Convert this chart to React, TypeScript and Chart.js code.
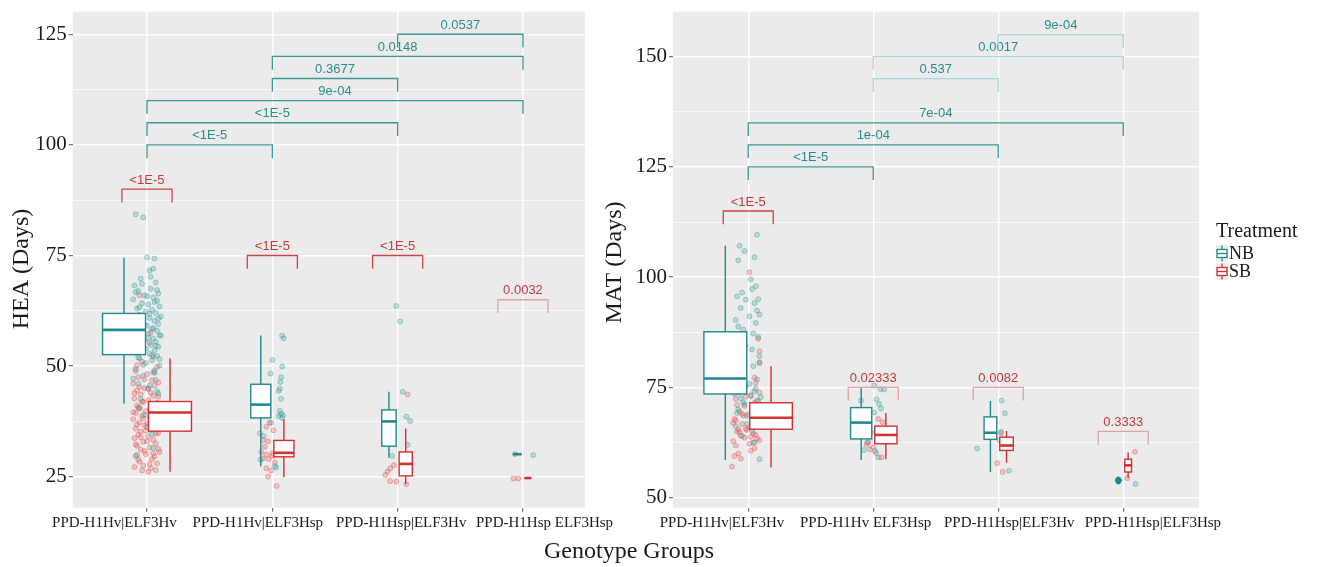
import React, { useEffect, useRef } from "react";
import { Chart, registerables } from "chart.js";

Chart.register(...registerables);

// ---------------- DATA ----------------
const LEFT_LABELS = ["PPD-H1Hv|ELF3Hv", "PPD-H1Hv|ELF3Hsp", "PPD-H1Hsp|ELF3Hv", "PPD-H1Hsp ELF3Hsp"];
const RIGHT_LABELS = ["PPD-H1Hv|ELF3Hv", "PPD-H1Hv ELF3Hsp", "PPD-H1Hsp|ELF3Hv", "PPD-H1Hsp|ELF3Hsp"];
const TREATMENTS = ["NB", "SB"];
const X_TITLE = "Genotype Groups";
const LEFT_Y_TITLE = "HEA (Days)";
const RIGHT_Y_TITLE = "MAT (Days)";
const LEGEND_TITLE = "Treatment";

const HEA_Y_MAJOR = [25, 50, 75, 100, 125];
const HEA_Y_MINOR = [37.5, 62.5, 87.5, 112.5];
const MAT_Y_MAJOR = [50, 75, 100, 125, 150];
const MAT_Y_MINOR = [62.5, 87.5, 112.5, 137.5];

// box stats: [lower whisker, Q1, median, Q3, upper whisker]
const HEA_NB_STATS = [
  [41.5, 52.6, 58.2, 61.9, 74.5],
  [27.3, 38.3, 41.3, 45.9, 56.9],
  [29.3, 31.9, 37.5, 40.1, 44.2],
  [30.1, 30.1, 30.1, 30.1, 30.1],
];
const HEA_SB_STATS = [
  [26.1, 35.3, 39.5, 42.0, 51.8],
  [24.9, 29.5, 30.4, 33.2, 38.0],
  [23.3, 25.2, 27.9, 30.6, 35.9],
  [24.7, 24.7, 24.7, 24.7, 24.7],
];
const MAT_NB_STATS = [
  [58.5, 73.5, 77.0, 87.6, 107.1],
  [58.5, 63.3, 67.0, 70.4, 74.9],
  [55.8, 63.2, 64.7, 68.3, 71.9],
  [53.9, 53.9, 53.9, 53.9, 53.9],
];
const MAT_SB_STATS = [
  [56.8, 65.5, 68.1, 71.5, 79.8],
  [58.7, 62.2, 64.2, 66.2, 69.2],
  [57.9, 60.7, 61.8, 63.7, 65.1],
  [54.5, 55.8, 57.3, 58.7, 60.2],
];

// group sizes (box widths ~ sqrt(n), varwidth)
const HEA_NB_N = [160, 35, 18, 6];
const HEA_SB_N = [160, 35, 15, 4];
const MAT_NB_N = [160, 39, 14, 4];
const MAT_SB_N = [158, 43, 16, 4];

// jittered observations: [jitter offset from group, value]
const HEA_NB_PTS: [number, number][][] = [
  [[-0.09,84.3],[-0.03,83.6],[0.0,74.6],[0.06,74.3],[0.05,72.0],[0.02,71.6],[-0.05,69.8],[0.07,68.9],[-0.10,68.2],[0.03,67.5],[-0.07,67.0],[0.09,66.4],[-0.02,66.0],[0.05,65.5],[-0.11,65.1],[0.08,64.8],[-0.04,64.2],[0.01,63.9],[0.10,63.5],[-0.08,63.0],[0.04,62.7],[-0.01,62.3],[0.07,62.0],[-0.06,61.6],[0.11,61.2],[0.02,60.9],[-0.09,60.5],[0.06,60.2],[-0.03,59.8],[0.09,59.5],[0.00,59.1],[-0.07,58.8],[0.04,58.4],[0.08,58.0],[-0.05,57.7],[0.01,57.3],[0.10,57.0],[-0.10,56.6],[0.05,56.2],[-0.02,55.9],[0.07,55.5],[-0.08,55.1],[0.03,54.8],[0.09,54.4],[-0.04,54.0],[0.06,53.6],[-0.11,53.2],[0.02,52.8],[0.08,52.3],[-0.06,51.8],[0.04,51.3],[-0.01,50.7],[0.10,50.1],[-0.09,49.4],[0.05,48.6],[-0.03,47.8],[0.07,46.9],[-0.07,46.0],[0.01,45.0],[0.09,43.8],[-0.05,42.5],[0.03,41.2],[-0.02,39.0],[0.06,37.5],[0.04,34.6],[-0.08,29.9],
   [0.03,70.2],[-0.04,68.6],[0.08,67.2],[-0.09,66.7],[0.00,65.8],[0.06,64.5],[-0.06,63.3],[0.02,61.9],[-0.10,61.0],[0.09,60.7],[-0.02,59.3],[0.05,58.6],[-0.08,57.5],[0.11,56.9],[0.01,56.4],[-0.05,55.3],[0.07,54.6],[-0.01,53.9],[0.04,52.5],[-0.07,52.0],[0.10,51.6],[-0.03,50.3],[0.06,49.0],[-0.11,47.2],[0.02,45.6],[0.08,44.3],[-0.06,40.6],[0.0,36.2],[0.05,31.5]],
  [[0.078,56.9],[0.09,56.3],[0.0,51.4],[0.078,49.9],[-0.014,48.3],[0.07,47.5],[0.064,46.4],[0.06,44.9],[0.07,42.6],[0.05,44.4],[0.06,39.9],[0.07,39.2],[0.085,38.9],[0.078,38.3],[0.05,38.7],[-0.01,37.2],[-0.07,34.2],[-0.093,28.9],[0.02,27.4],[0.03,27.1]],
  [[-0.01,63.6],[0.02,60.1],[0.04,44.2],[0.07,38.6],[0.10,37.6],[0.08,32.2],[-0.045,29.7]],
  [[-0.064,30.1],[0.082,29.9]],
];
const HEA_SB_PTS: [number, number][][] = [
  [[-0.06,66.0],[0.02,55.3],[-0.10,53.0],[0.05,52.1],[-0.04,51.0],[0.08,49.8],[-0.09,48.9],[0.00,48.2],[-0.07,47.5],[0.04,46.8],[-0.11,46.1],[0.06,45.6],[-0.02,45.0],[-0.08,44.5],[0.03,44.0],[-0.05,43.6],[0.09,43.1],[-0.10,42.7],[0.01,42.3],[-0.03,41.9],[0.07,41.5],[-0.08,41.1],[0.04,40.8],[-0.06,40.4],[0.10,40.1],[-0.01,39.8],[-0.09,39.4],[0.05,39.1],[-0.04,38.7],[0.02,38.4],[-0.11,38.0],[0.08,37.7],[-0.06,37.3],[0.00,37.0],[-0.02,36.6],[0.06,36.3],[-0.09,35.9],[0.03,35.6],[-0.05,35.2],[0.09,34.9],[-0.07,34.5],[0.01,34.1],[-0.10,33.7],[0.05,33.3],[-0.03,32.9],[0.07,32.5],[-0.08,32.0],[0.02,31.6],[-0.05,31.1],[0.10,30.6],[-0.01,30.1],[0.06,29.6],[-0.09,29.7],[0.04,29.0],[-0.06,28.4],[0.08,28.0],[-0.03,27.5],[0.03,26.9],[-0.04,26.4],[0.01,26.1],[0.07,26.5],
   [0.03,57.5],[-0.08,50.2],[0.06,48.5],[-0.02,47.0],[0.09,46.3],[-0.06,45.3],[0.01,44.8],[-0.10,43.9],[0.05,43.3],[-0.04,42.0],[0.08,41.7],[-0.07,40.6],[0.02,40.3],[-0.11,39.6],[0.06,38.9],[-0.03,38.2],[0.10,37.9],[-0.08,36.8],[0.04,36.0],[-0.01,35.4],[0.07,34.7],[-0.05,33.9],[0.00,33.0],[-0.09,32.3],[0.09,31.3],[-0.02,30.8],[0.05,30.3],[-0.07,28.9],[0.02,27.9],[-0.10,27.2]],
  [[-0.048,36.3],[-0.022,37.2],[-0.075,33.3],[-0.035,33.0],[-0.088,30.6],[-0.048,30.0],[0.0,30.3],[-0.075,29.1],[-0.03,29.0],[-0.048,26.9],[-0.01,26.4],[-0.035,25.0],[0.035,22.9],[0.01,35.5],[-0.1,34.8],[0.0,29.7],[-0.06,31.8],[0.02,28.2]],
  [[0.08,43.6],[-0.03,27.6],[-0.06,26.9],[-0.10,25.4],[-0.06,24.0],[-0.01,23.9],[0.07,23.3],[-0.08,26.2]],
  [[-0.077,24.6],[-0.038,24.6]],
];
const MAT_NB_PTS: [number, number][][] = [
  [[0.07,109.6],[-0.07,107.1],[-0.03,105.9],[0.05,104.5],[-0.08,103.8],[0.06,97.9],[0.03,97.3],[-0.09,95.6],[0.08,95.0],[-0.02,94.9],[0.05,94.1],[-0.06,93.0],[0.09,91.5],[0.01,91.1],[-0.10,90.3],[0.06,89.6],[-0.04,88.1],[0.08,86.4],[-0.07,85.1],[0.03,83.6],[0.09,82.1],[-0.05,81.3],[0.04,79.8],[-0.09,78.3],[0.07,76.8],[-0.02,75.3],[0.05,74.1],[-0.11,73.5],[0.02,73.0],[-0.06,72.5],[0.08,71.9],[-0.03,71.2],[0.10,70.7],[-0.08,70.0],[0.04,69.5],[-0.01,68.5],[0.06,67.0],[-0.10,66.2],[0.03,65.1],[-0.05,64.0],[0.09,58.7],
   [0.02,99.5],[-0.05,96.5],[0.07,92.4],[-0.08,88.8],[0.04,87.2],[-0.02,84.5],[0.09,80.5],[-0.10,77.5],[0.01,75.8],[0.06,74.7],[-0.07,73.8],[0.10,72.8],[-0.04,71.6],[0.03,70.4],[-0.09,69.2],[0.08,68.0],[-0.01,66.7],[0.05,62.5]],
  [[0.008,75.4],[0.059,74.6],[0.086,74.5],[-0.098,72.0],[0.027,72.3],[0.048,71.2],[0.062,70.2],[0.006,69.3],[-0.106,65.9],[-0.018,64.8],[-0.048,62.5],[-0.074,60.8],[0.04,59.1],[0.014,60.6]],
  [[0.027,72.0],[0.054,69.1],[0.022,64.9],[0.086,56.1],[-0.17,61.1]],
  [[0.099,53.1]],
];
const MAT_SB_PTS: [number, number][][] = [
  [[0.01,101.1],[0.08,86.0],[0.09,83.2],[0.09,80.7],[-0.04,78.5],[0.06,76.0],[-0.08,74.5],[0.02,73.2],[-0.10,72.4],[0.05,71.5],[-0.03,70.8],[0.08,70.1],[-0.07,69.5],[0.00,68.9],[0.06,68.3],[-0.11,67.8],[0.03,67.2],[-0.05,66.7],[0.09,66.1],[-0.02,65.6],[-0.09,65.0],[0.04,64.5],[-0.06,64.0],[0.07,63.4],[-0.12,62.8],[0.01,62.2],[0.05,61.2],[-0.08,60.0],[-0.11,59.4],[-0.13,57.0],[0.03,66.4],[-0.04,68.6],[0.06,70.4],[-0.07,64.8],[0.02,63.8],[-0.10,67.5],[0.08,69.2],[-0.01,65.3],[0.04,62.5],
   [0.05,77.2],[-0.06,75.2],[0.09,73.8],[-0.02,72.9],[0.07,72.0],[-0.09,71.0],[0.03,69.8],[-0.05,69.0],[0.10,68.0],[-0.12,66.9],[0.01,66.0],[-0.08,65.5],[0.06,64.2],[-0.03,63.6],[0.09,63.0],[-0.10,61.8],[0.02,60.6],[-0.06,58.8]],
  [[0.04,67.8],[0.075,67.1],[0.032,65.7],[0.059,64.4],[-0.04,62.5],[0.0,61.4],[0.022,60.1],[0.067,59.1],[-0.026,60.9],[-0.053,62.0]],
  [[0.035,55.8],[-0.008,57.8],[0.02,64.6],[0.01,63.0]],
  [[0.094,60.4],[0.032,54.4]],
];
const HEA_NB_OUTLIERS: number[][] = [[], [], [], []];
const MAT_NB_OUTLIERS: number[][] = [[], [], [], [53.6, 54.2]];

// significance brackets between groups (NB) : [from, to, level, label]
const HEA_NB_BRACKETS: [number, number, number, string][] = [
  [1, 2, 100, "<1E-5"], [1, 3, 105, "<1E-5"], [1, 4, 110, "9e-04"],
  [2, 3, 115, "0.3677"], [2, 4, 120, "0.0148"], [3, 4, 125, "0.0537"],
];
const MAT_NB_BRACKETS: [number, number, number, string][] = [
  [1, 2, 125, "<1E-5"], [1, 3, 130, "1e-04"], [1, 4, 135, "7e-04"],
  [2, 3, 145, "0.537"], [2, 4, 150, "0.0017"], [3, 4, 155, "9e-04"],
];
// NB vs SB within group : [group, level, label]
const HEA_TRT_BRACKETS: [number, number, string][] = [
  [1, 90, "<1E-5"], [2, 75, "<1E-5"], [3, 75, "<1E-5"], [4, 65, "0.0032"],
];
const MAT_TRT_BRACKETS: [number, number, string][] = [
  [1, 115, "<1E-5"], [2, 75, "0.02333"], [3, 75, "0.0082"], [4, 65, "0.3333"],
];

// ---------------- STYLE ----------------
const SERIF = "'Liberation Serif', 'DejaVu Serif', serif";
const SANS = "'Liberation Sans', Arial, sans-serif";
const PANEL_BG = "#EBEBEB";
const NB_BOX = "#1f8a8a";
const SB_BOX = "#d33030";
const NB_PT_FILL = "rgba(70,170,170,0.30)";
const NB_PT_LINE = "rgba(40,145,145,0.45)";
const SB_PT_FILL = "rgba(240,95,95,0.30)";
const SB_PT_LINE = "rgba(225,70,70,0.45)";
const TEAL_LINE = "#3a9898";
const TEAL_LINE_FADED = "#a9d6d6";
const TEAL_TEXT = "#2b8c8c";
const RED_LINE = "#c94646";
const RED_LINE_FADED = "#e3a2a2";
const RED_TEXT = "#c63a3a";
const HEA_NB_BRACKET_FADED = [false, false, false, false, false, false];
const MAT_NB_BRACKET_FADED = [false, false, false, true, true, true];
const HEA_TRT_BRACKET_FADED = [false, false, false, true];
const MAT_TRT_BRACKET_FADED = [false, true, true, true];
const BOX_W_PER_SQRT_N = 0.0271;
const BOX_GAP = 0.012;
const TRT_HALF = 0.2;
const TIP = 3;

type Pt = [number, number];
interface PanelDef {
  labels: string[];
  yTitle: string;
  yMin: number; yMax: number; yMajor: number[]; yMinor: number[];
  xMin: number; xMax: number;
  nbStats: number[][]; sbStats: number[][];
  nbN: number[]; sbN: number[];
  nbPts: Pt[][]; sbPts: Pt[][];
  nbOutliers: number[][];
  groupBrackets: [number, number, number, string][];
  groupFaded: boolean[];
  trtBrackets: [number, number, string][];
  trtFaded: boolean[];
  width: number; height: number;
  left: number; top: number; right: number; bottom: number;
  labelStart: number; labelStep: number; labelY: number;
  titleX: number; titleY: number;
  legend: boolean;
}

function drawBox(ctx: CanvasRenderingContext2D, xs: any, ys: any, center: number, w: number, s: number[], color: string) {
  const [lo, q1, med, q3, hi] = s;
  const xl = xs.getPixelForValue(center - w / 2);
  const xr = xs.getPixelForValue(center + w / 2);
  const xc = xs.getPixelForValue(center);
  const yLo = ys.getPixelForValue(lo), yQ1 = ys.getPixelForValue(q1), yMed = ys.getPixelForValue(med);
  const yQ3 = ys.getPixelForValue(q3), yHi = ys.getPixelForValue(hi);
  ctx.save();
  ctx.strokeStyle = color;
  ctx.lineWidth = 1.4;
  ctx.beginPath();
  ctx.moveTo(xc, yHi); ctx.lineTo(xc, yQ3);
  ctx.moveTo(xc, yQ1); ctx.lineTo(xc, yLo);
  ctx.stroke();
  ctx.fillStyle = "#ffffff";
  ctx.fillRect(xl, yQ3, xr - xl, yQ1 - yQ3);
  ctx.strokeRect(xl, yQ3, xr - xl, yQ1 - yQ3);
  ctx.lineWidth = 2.6;
  ctx.beginPath();
  ctx.moveTo(xl, yMed); ctx.lineTo(xr, yMed);
  ctx.stroke();
  ctx.restore();
}

function drawKey(ctx: CanvasRenderingContext2D, x: number, y: number, color: string) {
  ctx.save();
  ctx.fillStyle = "#EDEDED";
  ctx.fillRect(x, y - 8.5, 12, 17);
  ctx.strokeStyle = color;
  ctx.lineWidth = 1.3;
  ctx.beginPath();
  ctx.moveTo(x + 6, y - 8); ctx.lineTo(x + 6, y - 4);
  ctx.moveTo(x + 6, y + 4); ctx.lineTo(x + 6, y + 8);
  ctx.stroke();
  ctx.fillStyle = "#fff";
  ctx.fillRect(x + 1, y - 4, 10, 8);
  ctx.strokeRect(x + 1, y - 4, 10, 8);
  ctx.beginPath();
  ctx.moveTo(x + 1, y); ctx.lineTo(x + 11, y);
  ctx.stroke();
  ctx.restore();
}

function panelPlugin(p: PanelDef) {
  return {
    id: "panelPlugin",
    beforeDraw(chart: any) {
      const { ctx, chartArea: a } = chart;
      ctx.save();
      ctx.fillStyle = PANEL_BG;
      ctx.fillRect(a.left, a.top, a.right - a.left, a.bottom - a.top);
      ctx.restore();
    },
    afterDatasetsDraw(chart: any) {
      const { ctx } = chart;
      const xs = chart.scales.x, ys = chart.scales.y;
      for (let i = 0; i < p.labels.length; i++) {
        const c = i + 1;
        const wNB = BOX_W_PER_SQRT_N * Math.sqrt(p.nbN[i]);
        const wSB = BOX_W_PER_SQRT_N * Math.sqrt(p.sbN[i]);
        const cNB = c - wNB / 2 - BOX_GAP;
        const cSB = c + wSB / 2 + BOX_GAP;
        drawBox(ctx, xs, ys, cNB, wNB, p.nbStats[i], NB_BOX);
        drawBox(ctx, xs, ys, cSB, wSB, p.sbStats[i], SB_BOX);
        for (const v of p.nbOutliers[i]) {
          ctx.save();
          ctx.fillStyle = NB_BOX;
          ctx.beginPath();
          ctx.arc(xs.getPixelForValue(cNB), ys.getPixelForValue(v), 2.6, 0, Math.PI * 2);
          ctx.fill();
          ctx.restore();
        }
      }
      ctx.save();
      ctx.lineWidth = 1.3;
      ctx.font = `13px ${SANS}`;
      ctx.textAlign = "center";
      ctx.textBaseline = "middle";
      p.groupBrackets.forEach(([from, to, lvl, label], k) => {
        const x1 = xs.getPixelForValue(from), x2 = xs.getPixelForValue(to);
        const yl = ys.getPixelForValue(lvl), yd = ys.getPixelForValue(lvl - TIP);
        ctx.strokeStyle = p.groupFaded[k] ? TEAL_LINE_FADED : TEAL_LINE;
        ctx.beginPath();
        ctx.moveTo(x1, yd); ctx.lineTo(x1, yl); ctx.lineTo(x2, yl); ctx.lineTo(x2, yd);
        ctx.stroke();
        ctx.fillStyle = TEAL_TEXT;
        ctx.fillText(label, (x1 + x2) / 2, yl - 9);
      });
      p.trtBrackets.forEach(([g, lvl, label], k) => {
        const x1 = xs.getPixelForValue(g - TRT_HALF), x2 = xs.getPixelForValue(g + TRT_HALF);
        const yl = ys.getPixelForValue(lvl), yd = ys.getPixelForValue(lvl - TIP);
        ctx.strokeStyle = p.trtFaded[k] ? RED_LINE_FADED : RED_LINE;
        ctx.beginPath();
        ctx.moveTo(x1, yd); ctx.lineTo(x1, yl); ctx.lineTo(x2, yl); ctx.lineTo(x2, yd);
        ctx.stroke();
        ctx.fillStyle = RED_TEXT;
        ctx.fillText(label, (x1 + x2) / 2, yl - 9);
      });
      ctx.restore();
    },
    afterDraw(chart: any) {
      const { ctx } = chart;
      const xs = chart.scales.x;
      ctx.save();
      ctx.fillStyle = "#1a1a1a";
      ctx.font = `15px ${SERIF}`;
      ctx.textAlign = "center";
      ctx.textBaseline = "middle";
      p.labels.forEach((lab, i) => {
        ctx.fillText(lab, xs.getPixelForValue(p.labelStart + p.labelStep * i), p.labelY);
      });
      ctx.save();
      ctx.translate(p.titleX, p.titleY);
      ctx.rotate(-Math.PI / 2);
      ctx.font = `24px ${SERIF}`;
      ctx.fillText(p.yTitle, 0, 0);
      ctx.restore();
      if (p.legend) {
        const lx = 616;
        ctx.textAlign = "left";
        ctx.font = `20px ${SERIF}`;
        ctx.fillText(LEGEND_TITLE, lx, 232);
        ctx.font = `18px ${SERIF}`;
        const keyY = [253.5, 271.5];
        const cols = [NB_BOX, SB_BOX];
        TREATMENTS.forEach((t, i) => {
          drawKey(ctx, lx, keyY[i], cols[i]);
          ctx.fillStyle = "#1a1a1a";
          ctx.fillText(t, lx + 13, keyY[i] + 0.5);
        });
      }
      ctx.restore();
    },
  };
}

function buildChart(canvas: HTMLCanvasElement, p: PanelDef) {
  const toData = (pts: Pt[][]) =>
    pts.flatMap((grp, i) => grp.map(([off, v]) => ({ x: i + 1 + off, y: v })));
  const major = new Set(p.yMajor);
  const allTicks = [...p.yMajor, ...p.yMinor].sort((a, b) => a - b);
  return new Chart(canvas, {
    type: "scatter",
    data: {
      datasets: [
        { label: TREATMENTS[0], data: toData(p.nbPts), pointRadius: 2.5, backgroundColor: NB_PT_FILL, borderColor: NB_PT_LINE, borderWidth: 0.8 },
        { label: TREATMENTS[1], data: toData(p.sbPts), pointRadius: 2.5, backgroundColor: SB_PT_FILL, borderColor: SB_PT_LINE, borderWidth: 0.8 },
      ],
    },
    options: {
      animation: false,
      responsive: true,
      maintainAspectRatio: false,
      events: [],
      layout: { padding: { left: 0, top: p.top, right: p.width - p.right, bottom: 0 } },
      plugins: { legend: { display: false }, tooltip: { enabled: false } },
      scales: {
        x: {
          type: "linear",
          min: p.xMin,
          max: p.xMax,
          afterBuildTicks: (s: any) => { s.ticks = p.labels.map((_, i) => ({ value: i + 1 })); },
          afterFit: (s: any) => { s.height = p.height - p.bottom; s.paddingLeft = 0; s.paddingRight = 0; },
          ticks: { display: false },
          grid: { color: "#ffffff", lineWidth: 1.4, drawTicks: true, tickLength: 4, tickColor: "#555555", tickWidth: 1 },
          border: { display: false },
        },
        y: {
          type: "linear",
          min: p.yMin,
          max: p.yMax,
          afterBuildTicks: (s: any) => { s.ticks = allTicks.map((v) => ({ value: v })); },
          afterFit: (s: any) => { s.width = p.left; s.paddingTop = 0; s.paddingBottom = 0; },
          ticks: {
            autoSkip: false,
            padding: 2,
            color: "#1a1a1a",
            font: { family: SERIF, size: 21 },
            callback: (v: any) => (major.has(Number(v)) ? String(v) : ""),
          },
          grid: {
            color: "#ffffff",
            lineWidth: (c: any) => (major.has(c.tick?.value) ? 1.4 : 0.7),
            drawTicks: true,
            tickLength: 4,
            tickWidth: 1,
            tickColor: (c: any) => (major.has(c.tick?.value) ? "#555555" : "rgba(0,0,0,0)"),
          },
          border: { display: false },
        },
      },
    } as any,
    plugins: [panelPlugin(p)],
  });
}

const LEFT_PANEL: PanelDef = {
  labels: LEFT_LABELS, yTitle: LEFT_Y_TITLE,
  yMin: 18, yMax: 130.1, yMajor: HEA_Y_MAJOR, yMinor: HEA_Y_MINOR,
  xMin: 0.407, xMax: 4.495,
  nbStats: HEA_NB_STATS, sbStats: HEA_SB_STATS, nbN: HEA_NB_N, sbN: HEA_SB_N,
  nbPts: HEA_NB_PTS, sbPts: HEA_SB_PTS, nbOutliers: HEA_NB_OUTLIERS,
  groupBrackets: HEA_NB_BRACKETS, groupFaded: HEA_NB_BRACKET_FADED,
  trtBrackets: HEA_TRT_BRACKETS, trtFaded: HEA_TRT_BRACKET_FADED,
  width: 640, height: 567, left: 72.7, top: 11.7, right: 585, bottom: 507.7,
  labelStart: 0.74, labelStep: 1.144, labelY: 523.5,
  titleX: 22, titleY: 269, legend: false,
};
const RIGHT_PANEL: PanelDef = {
  labels: RIGHT_LABELS, yTitle: RIGHT_Y_TITLE,
  yMin: 47.7, yMax: 160.2, yMajor: MAT_Y_MAJOR, yMinor: MAT_Y_MINOR,
  xMin: 0.398, xMax: 4.606,
  nbStats: MAT_NB_STATS, sbStats: MAT_SB_STATS, nbN: MAT_NB_N, sbN: MAT_SB_N,
  nbPts: MAT_NB_PTS, sbPts: MAT_SB_PTS, nbOutliers: MAT_NB_OUTLIERS,
  groupBrackets: MAT_NB_BRACKETS, groupFaded: MAT_NB_BRACKET_FADED,
  trtBrackets: MAT_TRT_BRACKETS, trtFaded: MAT_TRT_BRACKET_FADED,
  width: 720, height: 567, left: 73, top: 11.7, right: 599, bottom: 507.7,
  labelStart: 0.79, labelStep: 1.149, labelY: 523.5,
  titleX: 15, titleY: 262.5, legend: true,
};

function Panel({ def, left }: { def: PanelDef; left: number }) {
  const ref = useRef<HTMLCanvasElement | null>(null);
  useEffect(() => {
    if (!ref.current) return;
    const chart = buildChart(ref.current, def);
    return () => chart.destroy();
  }, [def]);
  return (
    <div style={{ position: "absolute", left, top: 0, width: def.width, height: def.height }}>
      <canvas ref={ref} />
    </div>
  );
}

export default function App() {
  return (
    <div style={{ position: "absolute", left: 0, top: 0, width: 1320, height: 567, background: "#ffffff", overflow: "hidden" }}>
      <Panel def={LEFT_PANEL} left={0} />
      <Panel def={RIGHT_PANEL} left={600} />
      <div
        style={{
          position: "absolute", left: 0, width: 1258, top: 538, textAlign: "center",
          fontFamily: SERIF, fontSize: 24, lineHeight: "24px", color: "#1a1a1a", whiteSpace: "nowrap",
        }}
      >
        {X_TITLE}
      </div>
    </div>
  );
}
